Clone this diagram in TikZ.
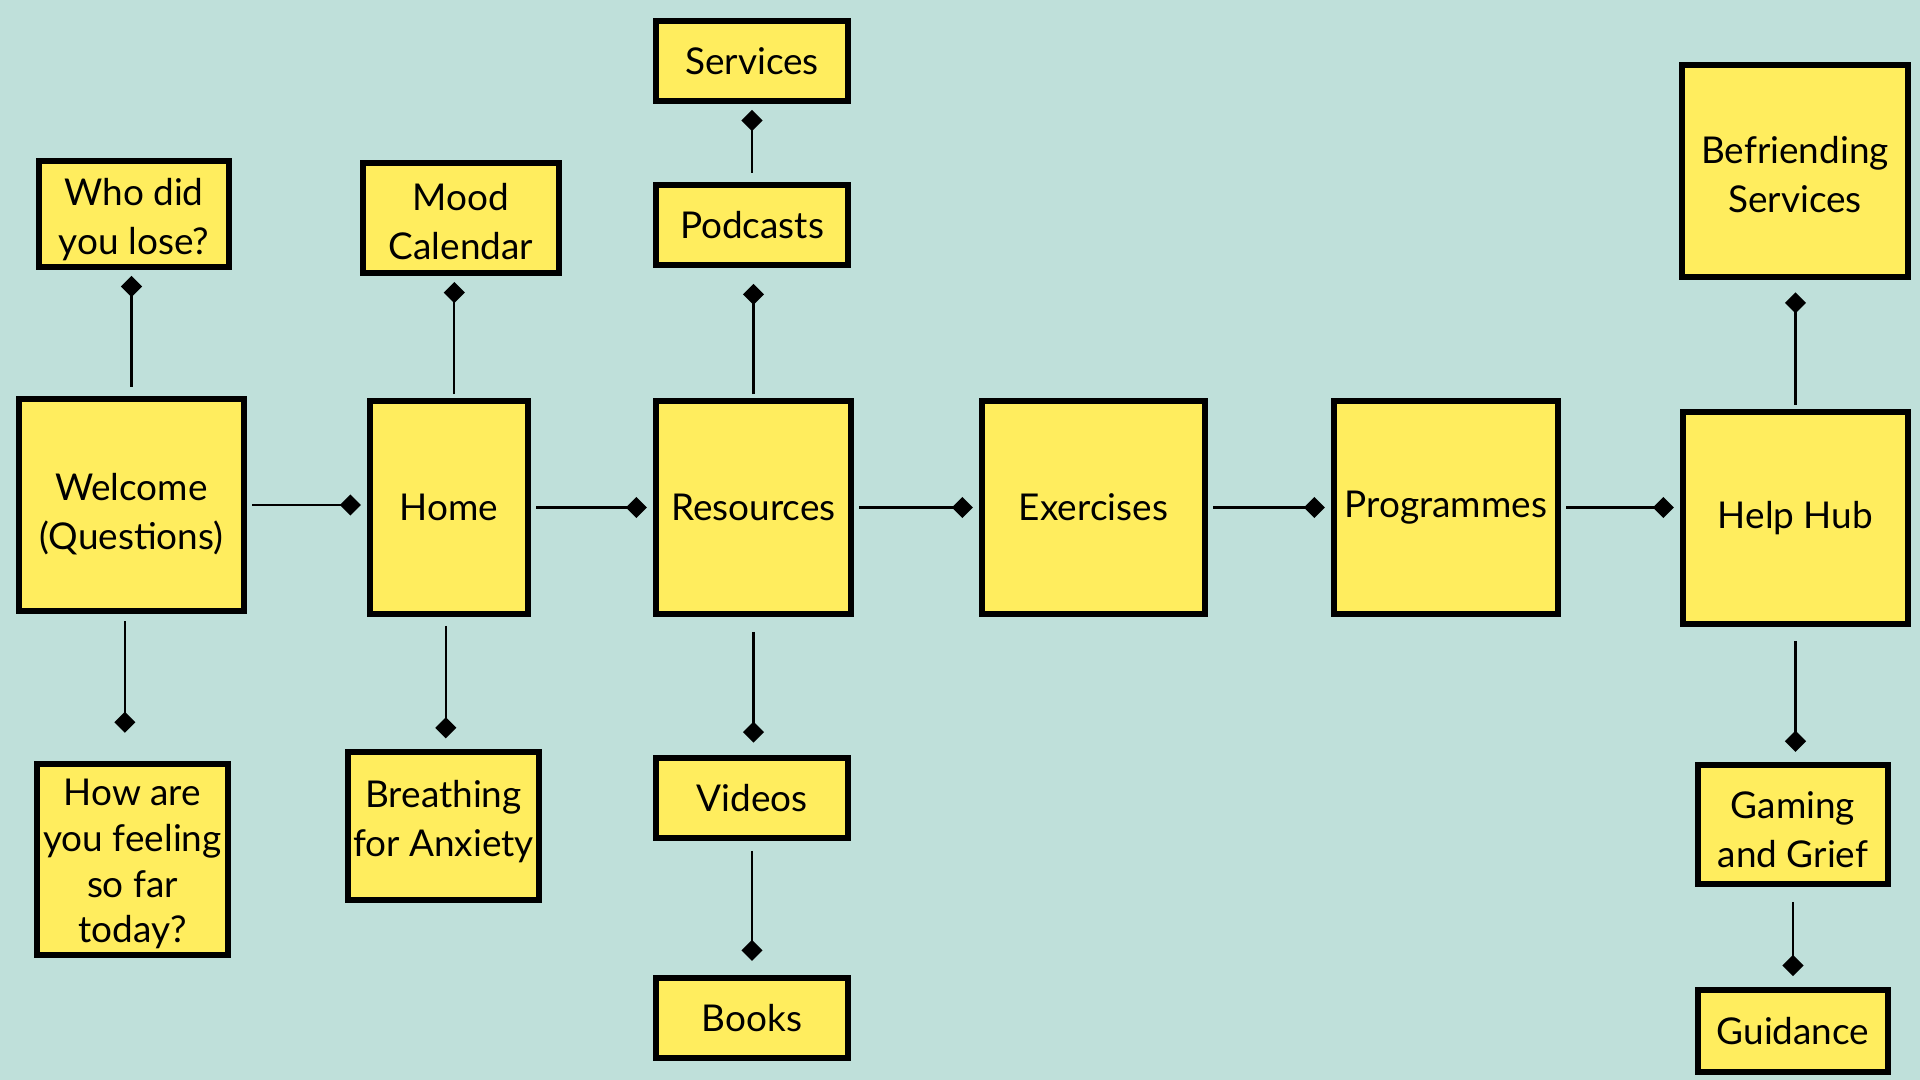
\documentclass[tikz,border=0pt]{standalone}
\usepackage{fontspec}
\setmainfont{Lato}
\usepackage{tikz}
\usetikzlibrary{arrows.meta,positioning,calc}

\definecolor{bgteal}{HTML}{BFE0DA}
\definecolor{notey}{HTML}{FFED5E}

% lines of a card, moved down by #1 inside the box
\newcommand{\cardlines}[2]{\raisebox{-#1}[\height][\depth]{\begin{tabular}{@{}c@{}}#2\end{tabular}}}

\tikzset{
  card/.style={draw=black, fill=notey, line width=1.7pt, align=center,
    inner sep=0pt, font=\fontsize{10.5}{14}\selectfont},
  link/.style={line width=0.6pt, -{Diamond[length=6pt,width=6pt]},
    shorten <=1.5pt, shorten >=1.7pt}
}

\begin{document}
\begin{tikzpicture}[x=0.01cm,y=-0.01cm]
	\fill[bgteal] (0,0) rectangle (1920,1080);
	\useasboundingbox (0,0) rectangle (1920,1080);
	
	% main row
	\node[card, minimum width=2.25cm, minimum height=2.12cm] (welcome) at (131.5,505) {\cardlines{2.8pt}{Welcome\\(Questions)}};
	\node[card, minimum width=1.58cm, minimum height=2.13cm] (home) at (449,507.5) {Home};
	\node[card, minimum width=1.95cm, minimum height=2.13cm] (resources) at (753.5,507.5) {Resources};
	\node[card, minimum width=2.23cm, minimum height=2.13cm] (exercises) at (1093.5,507.5) {Exercises};
	\node[card, minimum width=2.24cm, minimum height=2.13cm] (programmes) at (1446,507.5) {Programmes};
	\node[card, minimum width=2.25cm, minimum height=2.12cm] (helphub) at (1795.5,518) {Help Hub};
	
	% branches
	\node[card, minimum width=1.90cm, minimum height=1.06cm] (whodid) at (134,214) {\cardlines{1.7pt}{Who did\\you lose?}};
	\node[card, minimum width=1.91cm, minimum height=1.91cm, font=\fontsize{10.5}{13}\selectfont] (feeling) at (132.5,859.5) {\cardlines{1.6pt}{How are\\you feeling\\so far\\today?}};
	\node[card, minimum width=1.96cm, minimum height=1.10cm] (mood) at (461,218) {\cardlines{2.1pt}{Mood\\Calendar}};
	\node[card, minimum width=1.91cm, minimum height=1.48cm] (breathing) at (443.5,826) {\cardlines{-1pt}{Breathing\\for Anxiety}};
	\node[card, minimum width=1.92cm, minimum height=0.80cm] (podcasts) at (752,225) {Podcasts};
	\node[card, minimum width=1.92cm, minimum height=0.80cm] (services) at (752,61) {Services};
	\node[card, minimum width=1.92cm, minimum height=0.80cm] (videos) at (752,798) {Videos};
	\node[card, minimum width=1.92cm, minimum height=0.80cm] (books) at (752,1018) {Books};
	\node[card, minimum width=2.26cm, minimum height=2.12cm] (befriend) at (1795,171) {\cardlines{2.1pt}{Befriending\\Services}};
	\node[card, minimum width=1.90cm, minimum height=1.19cm] (gaming) at (1793,824.5) {\cardlines{2.4pt}{Gaming\\and Grief}};
	\node[card, minimum width=1.90cm, minimum height=0.82cm] (guidance) at (1793,1031) {Guidance};
	
	% connectors
	\draw[link] (welcome.east) -- (welcome.east -| home.west);
	\draw[link] (home.east) -- (home.east -| resources.west);
	\draw[link] (resources.east) -- (resources.east -| exercises.west);
	\draw[link] (exercises.east) -- (exercises.east -| programmes.west);
	\draw[link] (programmes.east) -- (programmes.east -| helphub.west);
	
	\draw[link, shorten <=2.6pt] (welcome.north) -- (welcome.north |- whodid.south);
	\draw[link, shorten <=2pt, shorten >=8pt] ([xshift=-1.9pt]welcome.south) -- ([xshift=-1.9pt]welcome.south |- feeling.north);
	\draw[link, shorten <=1.1pt] ([xshift=1.5pt]home.north) -- ([xshift=1.5pt]home.north |- mood.south);
	\draw[link, shorten <=2.5pt, shorten >=3pt] ([xshift=-0.9pt]home.south) -- ([xshift=-0.9pt]home.south |- breathing.north);
	\draw[link, shorten <=1.1pt, shorten >=4.5pt] (resources.north) -- (resources.north |- podcasts.south);
	\draw[link, shorten <=2.6pt] (podcasts.north) -- (podcasts.north |- services.south);
	\draw[link, shorten <=4.2pt, shorten >=3.5pt] (resources.south) -- (resources.south |- videos.north);
	\draw[link, shorten <=2.8pt, shorten >=4pt] (videos.south) -- (videos.south |- books.north);
	\draw[link, shorten <=1.2pt, shorten >=3.5pt] (helphub.north) -- (helphub.north |- befriend.south);
	\draw[link, shorten <=3.9pt, shorten >=2.9pt] (helphub.south) -- (helphub.south |- gaming.north);
	\draw[link, shorten <=4.2pt, shorten >=3.1pt] (gaming.south) -- (gaming.south |- guidance.north);
\end{tikzpicture}
\end{document}
